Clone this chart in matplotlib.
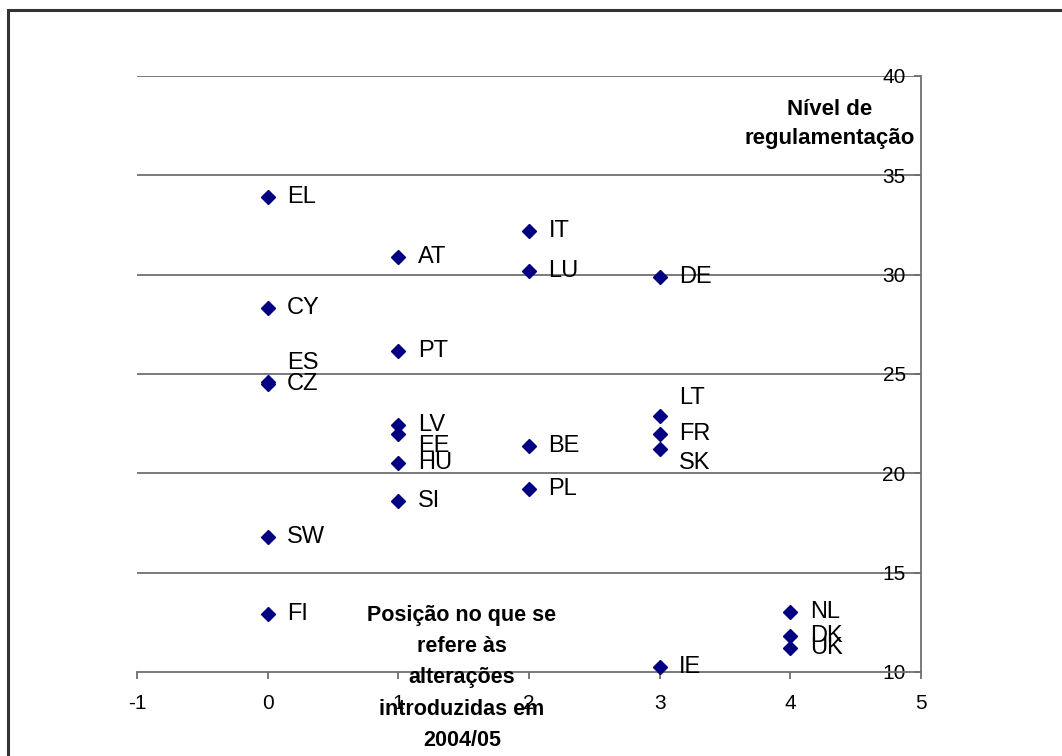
import matplotlib
matplotlib.use("Agg")
import matplotlib.pyplot as plt
from matplotlib.patches import Rectangle

plt.rcParams['font.family'] = ['Liberation Sans', 'DejaVu Sans']
plt.rcParams['axes.unicode_minus'] = False

countries = ['EL', 'CY', 'ES', 'CZ', 'SW', 'FI',
             'AT', 'PT', 'LV', 'EE', 'HU', 'SI',
             'IT', 'LU', 'BE', 'PL',
             'DE', 'LT', 'FR', 'SK', 'IE',
             'NL', 'DK', 'UK']
position = [0, 0, 0, 0, 0, 0,
            1, 1, 1, 1, 1, 1,
            2, 2, 2, 2,
            3, 3, 3, 3, 3,
            4, 4, 4]
regulation = [33.9, 28.3, 24.6, 24.5, 16.8, 12.9,
              30.9, 26.15, 22.45, 22.0, 20.5, 18.6,
              32.2, 30.2, 21.4, 19.2,
              29.9, 22.9, 22.0, 21.2, 10.25,
              13.0, 11.8, 11.2]
# label vertical nudges (points), as placed in the original chart
label_dy = {'ES': 13.5, 'LT': 13, 'SK': -10, 'EE': -9}

x_ticks = [-1, 0, 1, 2, 3, 4, 5]
y_ticks = [10, 15, 20, 25, 30, 35, 40]

W, H = 1062, 756
fig = plt.figure(figsize=(W / 100, H / 100), dpi=100)
ax = fig.add_axes([137 / W, 1 - 672 / H, (921 - 137) / W, (672 - 76) / H])

ax.set_xlim(-1, 5)
ax.set_ylim(10, 40)
ax.set_xticks(x_ticks)
ax.set_yticks(y_ticks)

grey = '#707070'
for y in y_ticks[1:]:
    ax.axhline(y, color=grey, lw=1.3, zorder=1)

ax.spines['top'].set_visible(False)
ax.spines['right'].set_visible(False)
ax.spines['left'].set_position(('data', 5))
for s in ('left', 'bottom'):
    ax.spines[s].set_color(grey)
    ax.spines[s].set_linewidth(1.3)

ax.tick_params(axis='x', direction='out', length=5, width=1.3, color=grey,
               labelsize=15, pad=11)
ax.tick_params(axis='y', direction='out', length=5, width=1.3, color=grey,
               labelsize=15, pad=6)

ax.plot(position, regulation, linestyle='none', marker='D', markersize=7.3,
        color='#000080', zorder=3, clip_on=False)

for c, x, y in zip(countries, position, regulation):
    ax.annotate(c, (x, y), xytext=(14, label_dy.get(c, 0)),
                textcoords='offset points', va='center', ha='left',
                fontsize=17, color='black', zorder=4)

fig.text(462 / W, 1 - 678 / H,
         'Posição no que se\nrefere às\nalterações\nintroduzidas em\n2004/05',
         ha='center', va='center', fontsize=15.5, fontweight='bold',
         linespacing=1.64)
fig.text(915 / W, 1 - 124 / H, 'Nível de\nregulamentação',
         ha='right', va='center', fontsize=16, fontweight='bold',
         multialignment='center', linespacing=1.45)

fig.patches.append(Rectangle((8 / W, -0.1), 1.2, 1 - 10 / H + 0.1,
                             transform=fig.transFigure, fill=False,
                             edgecolor='#333333', lw=2.2))

fig.savefig('out.png', dpi=100)
